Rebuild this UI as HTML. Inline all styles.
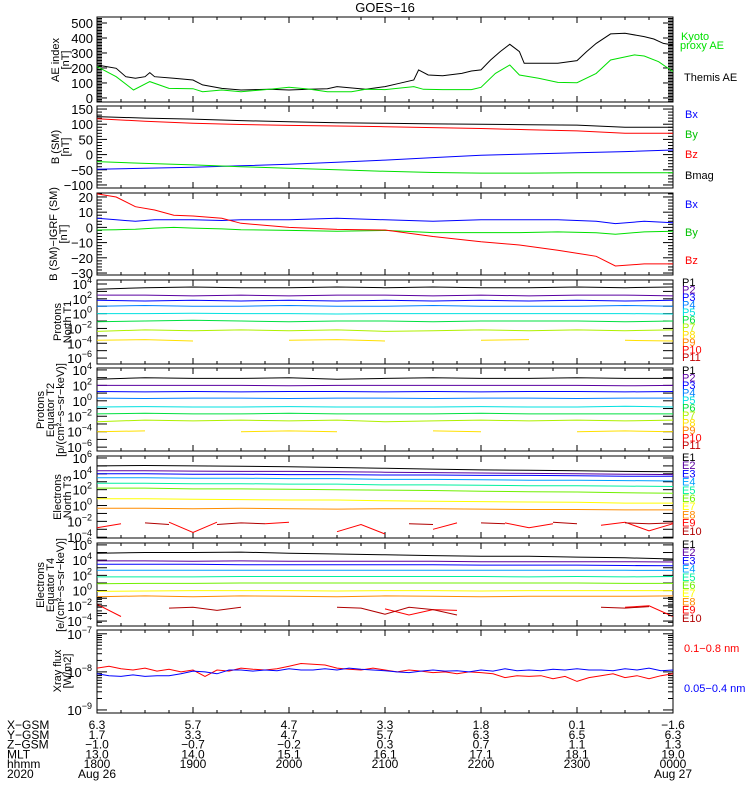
<!DOCTYPE html>
<html><head><meta charset="utf-8"><style>
html,body{margin:0;padding:0;background:#fff;}
svg{display:block;font-family:"Liberation Sans",sans-serif;}
</style></head><body>
<svg id="chart" width="750" height="800" viewBox="0 0 750 800" xmlns="http://www.w3.org/2000/svg"></svg>
<script>
// ---------- data ----------
const aeBlackT = [0,0.1,0.2,0.3,0.4,0.5,0.55,0.6,0.8,1.0,1.1,1.3,1.5,1.8,2.0,2.2,2.4,2.5,2.8,3.0,3.15,3.3,3.35,3.45,3.6,3.8,3.9,4.0,4.1,4.2,4.3,4.4,4.45,4.6,4.8,5.0,5.1,5.2,5.35,5.5,5.7,5.8,5.9,6.0];
const aeBlack = [220,209,198,142,131,142,169,142,131,120,87,64,53,58,53,58,62,76,58,76,98,120,187,153,148,164,180,187,253,309,358,309,231,231,231,249,309,364,427,431,409,393,364,353];
const aeGreenT = [0,0.2,0.38,0.55,0.75,1.0,1.1,1.3,1.5,1.8,2.0,2.2,2.4,2.65,2.8,3.0,3.3,3.4,3.6,3.9,4.0,4.15,4.3,4.4,4.6,4.8,5.0,5.2,5.35,5.6,5.7,5.85,6.0];
const aeGreen = [209,142,53,109,64,62,42,53,42,58,71,60,42,42,58,56,76,58,56,56,71,164,220,153,131,104,102,164,253,287,280,242,176];

const hrT = [0,0.5,1,1.5,2,2.5,3,3.5,4,4.5,5,5.5,6];
const bMag = [125,120,117,112,108,105,103,101,100,98,97,90,90];
const bZ = [118,110,103,99,96,94,92,89,86,82,78,70,70];
const bX = [-48,-45,-42,-37,-32,-25,-18,-10,-2,2,6,10,15];
const bY = [-23,-29,-34,-40,-45,-50,-55,-59,-61,-61,-60,-60,-60];

const dbT = [0,0.2,0.4,0.6,0.8,1.0,1.3,1.5,2.0,2.5,3.0,3.5,4.0,4.4,4.8,5.2,5.4,5.7,6.0];
const dbZ = [22,20,13.6,11.4,8,7.5,6,2.7,0,-1.3,-1.7,-6,-9.4,-11.6,-15,-19,-25.4,-24,-24];
const dbX = [6,5,4,5,5,5,4.5,5,5,6,5,4,5,5,5,4,2.5,4,3];
const dbY = [-1.7,-1.5,-1.2,-0.5,0,-0.5,-1,-1.5,-2,-2.5,-2,-3.4,-3.4,-3.4,-3,-3.5,-4.5,-3,-2.5];

const t1P1 = [3.3,3.5,3.6,3.5,3.5,3.6,3.5,3.6,3.5,3.5,3.6,3.5,3.6];
const t1P2 = [2.5,2.5,2.4,2.5,2.4,2.5,2.5,2.4,2.5,2.4,2.5,2.5,2.4];
const t1P3 = [1.8,1.7,1.8,1.7,1.8,1.7,1.8,1.7,1.8,1.7,1.8,1.7,1.8];
const t1P4 = [1.0,1.1,1.0,1.0,1.1,1.0,1.0,1.1,1.0,1.0,1.0,1.1,1.0];
const t1P5 = [0.0,0.0,0.05,0,0,-0.05,0,0,0,0,0,0,-0.05];
const t1P6 = [-1.1,-1.0,-0.9,-1.0,-1.1,-1.0,-1.0,-1.1,-1.0,-1.0,-1.0,-1.1,-1.0];
const t1P7 = [-2.4,-2.2,-2.3,-2.2,-2.3,-2.2,-2.4,-2.3,-2.2,-2.3,-2.2,-2.3,-2.2];
const t1P8 = [-3.6,-3.5,-3.7,null,-3.6,-3.5,-3.7,null,-3.6,-3.5,null,-3.6,-3.7];
const t2P1 = [2.8,3.0,2.9,2.9,3.0,2.8,2.9,3.0,2.9,2.9,3.0,2.9,2.9];
const t2P2 = [2.0,2.0,2.0,2.0,1.95,2.0,2.0,2.0,2.0,2.0,2.0,1.95,2.0];
const t2P3 = [1.2,1.15,1.2,1.15,1.2,1.2,1.15,1.2,1.15,1.2,1.2,1.15,1.2];
const t2P4 = [0.35,0.3,0.35,0.35,0.3,0.35,0.35,0.3,0.35,0.35,0.3,0.35,0.35];
const t2P5 = [-0.8,-0.75,-0.8,-0.8,-0.75,-0.8,-0.8,-0.8,-0.75,-0.8,-0.8,-0.7,-0.8];
const t2P6 = [-1.7,-1.6,-1.7,-1.7,-1.6,-1.7,-1.7,-1.7,-1.6,-1.7,-1.7,-1.7,-1.7];
const t2P7 = [-2.7,-2.5,-2.6,-2.5,-2.6,-2.5,-2.7,-2.6,-2.5,-2.6,-2.5,-2.6,-2.5];
const t2P8 = [-4.0,-3.9,null,-4.0,-3.9,-4.0,null,-3.9,-4.0,null,-4.0,-3.9,-4.0];
const t3E1 = [5.0,5.05,5.0,4.95,4.9,4.8,4.7,4.6,4.5,4.45,4.4,4.3,4.25];
const t3E2 = [4.4,4.4,4.35,4.3,4.3,4.25,4.2,4.15,4.1,4.05,4.0,3.95,3.9];
const t3E3 = [4.0,4.0,3.95,3.95,3.9,3.9,3.85,3.85,3.8,3.8,3.75,3.7,3.7];
const t3E4 = [3.5,3.5,3.45,3.45,3.4,3.4,3.3,3.3,3.25,3.2,3.2,3.15,3.1];
const t3E5 = [2.8,2.8,2.75,2.75,2.7,2.7,2.6,2.6,2.55,2.5,2.5,2.45,2.4];
const t3E6 = [2.2,2.2,2.1,2.1,2.05,2.0,1.95,1.9,1.8,1.75,1.7,1.6,1.55];
const t3E7 = [0.85,0.85,0.8,0.75,0.7,0.7,0.6,0.55,0.5,0.45,0.4,0.3,0.3];
const t3E8 = [-0.35,-0.35,-0.4,-0.35,-0.4,-0.45,-0.4,-0.4,-0.45,-0.5,-0.5,-0.55,-0.55];
const qT = [0,0.25,0.5,0.75,1,1.25,1.5,1.75,2,2.25,2.5,2.75,3,3.25,3.5,3.75,4,4.25,4.5,4.75,5,5.25,5.5,5.75,6];
const t3E9 = [-2.8,-2.3,null,-2.1,-3.4,-2.1,null,-2.3,-2.1,null,-3.3,-2.4,-3.6,null,-3.0,-2.2,null,-2.2,-2.8,-2.3,null,-2.5,-2.1,-3.2,-2.3];
const t3E10 = [null,null,-2.2,-2.4,null,-2.4,-2.2,-2.3,null,-2.6,null,-2.2,null,-2.3,-2.4,null,-2.2,-2.3,null,-2.1,-2.3,null,-2.2,-2.3,-2.2];
const t4E1 = [4.9,5.0,5.0,5.05,4.9,4.8,4.7,4.6,4.5,4.5,4.4,4.3,4.15];
const t4E2 = [3.9,3.9,3.85,3.9,3.85,3.85,3.85,3.85,3.8,3.8,3.8,3.8,3.75];
const t4E3 = [3.45,3.45,3.45,3.4,3.4,3.4,3.4,3.4,3.35,3.35,3.35,3.3,3.25];
const t4E4 = [2.67,2.67,2.67,2.67,2.67,2.67,2.67,2.67,2.67,2.67,2.67,2.67,2.65];
const t4E5 = [1.8,1.8,1.8,1.85,1.85,1.85,1.85,1.85,1.85,1.8,1.85,1.8,1.85];
const t4E6 = [0.9,0.95,0.95,1.0,1.0,1.0,1.0,1.0,1.0,1.0,1.0,0.95,0.95];
const t4E7 = [-0.1,-0.05,0.0,0.0,0.0,-0.05,0.0,0.0,-0.05,0.0,0.0,0.0,0.0];
const t4E8 = [-0.8,-0.7,-0.8,-0.7,-0.75,-0.8,-0.7,-0.75,-0.8,-0.75,-0.75,-0.75,-0.7];
const t4E9 = [-1.8,-3.4,null,null,-2.6,null,-3.0,null,-2.4,null,-2.8,null,-2.4,-3.2,-2.5,-2.6,null,-2.4,null,null,-2.5,null,-2.2,-2.0,-3.4];
const t4E10 = [null,null,null,-2.3,-2.2,-2.6,-2.2,null,null,null,-2.2,-2.3,-3.1,-2.2,-2.5,-3.2,null,null,-2.2,null,null,-2.2,-2.3,-2.1,null];
const xrT = Array.from({length:49},(_,i)=>i*0.125);
const xrRed = [-7.9,-7.85,-7.92,-7.95,-7.9,-7.98,-7.93,-8.0,-7.95,-8.12,-7.95,-7.98,-7.9,-7.93,-7.95,-7.92,-7.85,-7.78,-7.8,-7.82,-7.9,-7.93,-7.95,-7.9,-7.95,-8.0,-7.95,-7.98,-8.02,-8.0,-8.05,-8.0,-8.02,-8.05,-8.15,-8.1,-8.12,-8.1,-8.18,-8.12,-8.25,-8.15,-8.1,-8.05,-8.15,-8.1,-8.18,-8.1,-8.05];
const xrBlue = [-8.05,-8.1,-8.12,-8.08,-8.12,-8.1,-8.1,-8.05,-7.98,-8.0,-8.05,-7.95,-7.95,-7.98,-7.95,-7.97,-7.92,-7.95,-7.95,-7.92,-7.95,-7.9,-7.93,-7.95,-7.97,-8.0,-8.02,-7.98,-7.95,-7.98,-7.97,-8.0,-7.95,-7.98,-7.92,-7.97,-7.95,-7.97,-7.93,-7.95,-7.92,-7.95,-7.95,-7.97,-7.92,-7.95,-7.9,-7.97,-7.95];

const xGsm = ["6.3","5.7","4.7","3.3","1.8","0.1","-1.6"];
const yGsm = ["1.7","3.3","4.7","5.7","6.3","6.5","6.3"];
const zGsm = ["-1.0","-0.7","-0.2","0.3","0.7","1.1","1.3"];
const mlt = ["13.0","14.0","15.1","16.1","17.1","18.1","19.0"];
const hhmm = ["1800","1900","2000","2100","2200","2300","0000"];

// ---------- drawing ----------
const svg = document.getElementById('chart');
const NS = 'http://www.w3.org/2000/svg';
const L = 97, R = 673;
const xs = t => L + (R - L) * t / 6;
function mk(tag, attrs, parent){ const e=document.createElementNS(NS,tag); for(const k in attrs) e.setAttribute(k,attrs[k]); (parent||svg).appendChild(e); return e; }
function txt(x,y,s,opt){ const e=mk('text',Object.assign({x:x,y:y,'font-size':11,fill:'#000'},opt||{})); e.textContent=s; return e; }
function series(ts, vs, ys, color, name){
  let d='', pen=false;
  for(let i=0;i<vs.length;i++){
    if(vs[i]===null||vs[i]===undefined){pen=false;continue;}
    d += (pen?'L':'M') + xs(ts[i]).toFixed(1)+','+ys(vs[i]).toFixed(1);
    pen=true;
  }
  const p=mk('path',{d:d,fill:'none',stroke:color,'stroke-width':1});
  
  
}
function frame(top,bot,name){
  const r=mk('rect',{x:L,y:top,width:R-L,height:bot-top,fill:'none',stroke:'#000','stroke-width':1});
  
  
  for(let m=0;m<=360;m+=15){
    const x=xs(m/60), len = m%60===0?6:3;
    mk('line',{x1:x,x2:x,y1:bot,y2:bot-len,stroke:'#000'});
    mk('line',{x1:x,x2:x,y1:top,y2:top+len,stroke:'#000'});
  }
}
function yTick(y,len){ mk('line',{x1:L,x2:L+len,y1:y,y2:y,stroke:'#000'}); mk('line',{x1:R,x2:R-len,y1:y,y2:y,stroke:'#000'}); }
function ylab(lines,cx,cy,name){
  const g=mk('g',{transform:`translate(${cx},${cy}) rotate(-90)`});
  
  
  lines.forEach((s,i)=>{ const t=txt(0,(i-(lines.length-1)/2)*10+4,s,{'text-anchor':'middle','font-size':11}); g.appendChild(t); });
}
function linPanel(top,bot,vmin,vmax,major,minor,name){
  frame(top,bot,name);
  const ys=v=> bot-(v-vmin)/(vmax-vmin)*(bot-top);
  for(let v=Math.ceil(vmin/minor)*minor; v<=vmax; v+=minor){
    const isM = Math.abs(v/major-Math.round(v/major))<1e-6;
    yTick(ys(v), isM?10:5);
    if(isM){ const t=txt(L-4,ys(v)+5,String(v).replace('-','\u2212'),{'text-anchor':'end','font-size':13});   }
  }
  return ys;
}
function logPanel(top,bot,lmin,lmax,labelStep,name,minorLog){
  frame(top,bot,name);
  const ys=v=> bot-(v-lmin)/(lmax-lmin)*(bot-top);
  for(let e=Math.ceil(lmin); e<=lmax; e++){
    yTick(ys(e),10);
    if(minorLog && e<lmax){ for(let k=2;k<10;k++) yTick(ys(e+Math.log10(k)),5); }
    if(((e%labelStep)+labelStep)%labelStep===0){
      const t=txt(L-5,ys(e)+5,'10',{'text-anchor':'end','font-size':13});
      const s=mk('tspan',{dy:-6,'font-size':9}); s.textContent=String(e).replace('-','\u2212'); t.appendChild(s);
       
    }
  }
  return ys;
}

const title=txt(385,12,'GOES\u221216',{'text-anchor':'middle','font-size':13});
 

let ys = linPanel(17,102,-27,540,100,10,'ae-panel');
series(aeBlackT,aeBlack,ys,'#000','themis-ae-line');
series(aeGreenT,aeGreen,ys,'#00e000','kyoto-proxy-ae-line');
ylab(['AE index','[nT]'],60,60,'ae-y-axis-title');
txt(681,40,'Kyoto',{fill:'#00e000'}); txt(680,49,'proxy AE',{fill:'#00e000'}); txt(684,81,'Themis AE');

ys = linPanel(106,188,-110,160,50,10,'b-sm-panel');
series(hrT,bMag,ys,'#000','bmag-line'); series(hrT,bZ,ys,'#ff0000','bz-line');
series(hrT,bX,ys,'#0000ff','bx-line'); series(hrT,bY,ys,'#00e000','by-line');
ylab(['B (SM)','[nT]'],60,147,'b-sm-y-axis-title');
txt(685,118,'Bx',{fill:'#0000ff'}); txt(685,138,'By',{fill:'#00c000'}); txt(685,158,'Bz',{fill:'#ff0000'}); txt(685,179,'Bmag');

ys = linPanel(193,275,-31.3,22.6,10,2,'b-igrf-panel');
series(dbT,dbX,ys,'#0000ff','dbx-line'); series(dbT,dbY,ys,'#00e000','dby-line'); series(dbT,dbZ,ys,'#ff0000','dbz-line');
ylab(['B (SM)\u2212IGRF (SM)','[nT]'],58,234,'b-igrf-y-axis-title');
txt(685,208,'Bx',{fill:'#0000ff'}); txt(685,236,'By',{fill:'#00c000'}); txt(685,264,'Bz',{fill:'#ff0000'});

const pCol=['#000','#5a00a0','#0000ff','#0080ff','#00e0e0','#00e040','#b0f000','#ffe000','#ff8000','#ff0000','#c00000'];
const eCol=['#000','#5a00a0','#0000ff','#00a0ff','#00f0a0','#70f000','#ffff00','#ff8c00','#ff0000','#b00000'];
function legendCol(labels,cols,y0,dy,prefix){
  labels.forEach((s,i)=>{ const t=txt(682,y0+i*dy,s,{fill:cols[i],'font-size':11});   });
}
const Pl=['P1','P2','P3','P4','P5','P6','P7','P8','P9','P10','P11'], El=['E1','E2','E3','E4','E5','E6','E7','E8','E9','E10'];

ys = logPanel(280,364,-6.8,4.54,2,'protons-t1-panel');
[t1P1,t1P2,t1P3,t1P4,t1P5,t1P6,t1P7,t1P8].forEach((a,i)=>series(hrT,a,ys,pCol[i],'t1-p'+(i+1)+'-line'));
ylab(['Protons','North T1'],62,322,'protons-t1-y-axis-title');
legendCol(Pl,pCol,286,7.5,'t1');

ys = logPanel(368,451,-6.5,4.25,2,'protons-t2-panel');
[t2P1,t2P2,t2P3,t2P4,t2P5,t2P6,t2P7,t2P8].forEach((a,i)=>series(hrT,a,ys,pCol[i],'t2-p'+(i+1)+'-line'));
ylab(['Protons','Equator T2','[p/(cm\u00b2\u2212s\u2212sr\u2212keV)]'],50,410,'protons-t2-y-axis-title');
legendCol(Pl,pCol,374,7.5,'t2');

ys = logPanel(456,538,-4.1,6.25,2,'electrons-t3-panel');
[t3E1,t3E2,t3E3,t3E4,t3E5,t3E6,t3E7,t3E8].forEach((a,i)=>series(hrT,a,ys,eCol[i],'t3-e'+(i+1)+'-line'));
series(qT,t3E9,ys,'#ff0000','t3-e9-line'); series(qT,t3E10,ys,'#b00000','t3-e10-line');
ylab(['Electrons','North T3'],62,497,'electrons-t3-y-axis-title');
legendCol(El,eCol,461,8.2,'t3');

ys = logPanel(543,626,-4.65,6.25,2,'electrons-t4-panel');
[t4E1,t4E2,t4E3,t4E4,t4E5,t4E6,t4E7,t4E8].forEach((a,i)=>series(hrT,a,ys,eCol[i],'t4-e'+(i+1)+'-line'));
series(qT,t4E9,ys,'#ff0000','t4-e9-line'); series(qT,t4E10,ys,'#b00000','t4-e10-line');
ylab(['Electrons','Equator T4','[e/(cm\u00b2\u2212s\u2212sr\u2212keV)]'],50,585,'electrons-t4-y-axis-title');
legendCol(El,eCol,548,8.2,'t4');

ys = logPanel(630,713,-9.08,-6.9,1,'xray-panel',true);
series(xrT,xrRed,ys,'#ff0000','xray-long-line'); series(xrT,xrBlue,ys,'#0000ff','xray-short-line');
ylab(['Xray flux','[W/m2]'],62,671,'xray-y-axis-title');
txt(684,652,'0.1\u22120.8 nm',{fill:'#ff0000'}); txt(684,692,'0.05\u22120.4 nm',{fill:'#0000ff'});

const rows=[['X\u2212GSM',xGsm],['Y\u2212GSM',yGsm],['Z\u2212GSM',zGsm],['MLT',mlt],['hhmm',hhmm]];
rows.forEach((r,ri)=>{
  const y=729+ri*9.8;
  const t=txt(7,y,r[0],{'font-size':12});  
  r[1].forEach((v,i)=>{ const tv=txt(xs(i),y,v.replace('-','\u2212'),{'text-anchor':'middle','font-size':12});   });
});
txt(7,778,'2020',{'font-size':12});
txt(xs(0),778,'Aug 26',{'text-anchor':'middle','font-size':12});
txt(xs(6),778,'Aug 27',{'text-anchor':'middle','font-size':12});
</script>
</body></html>
